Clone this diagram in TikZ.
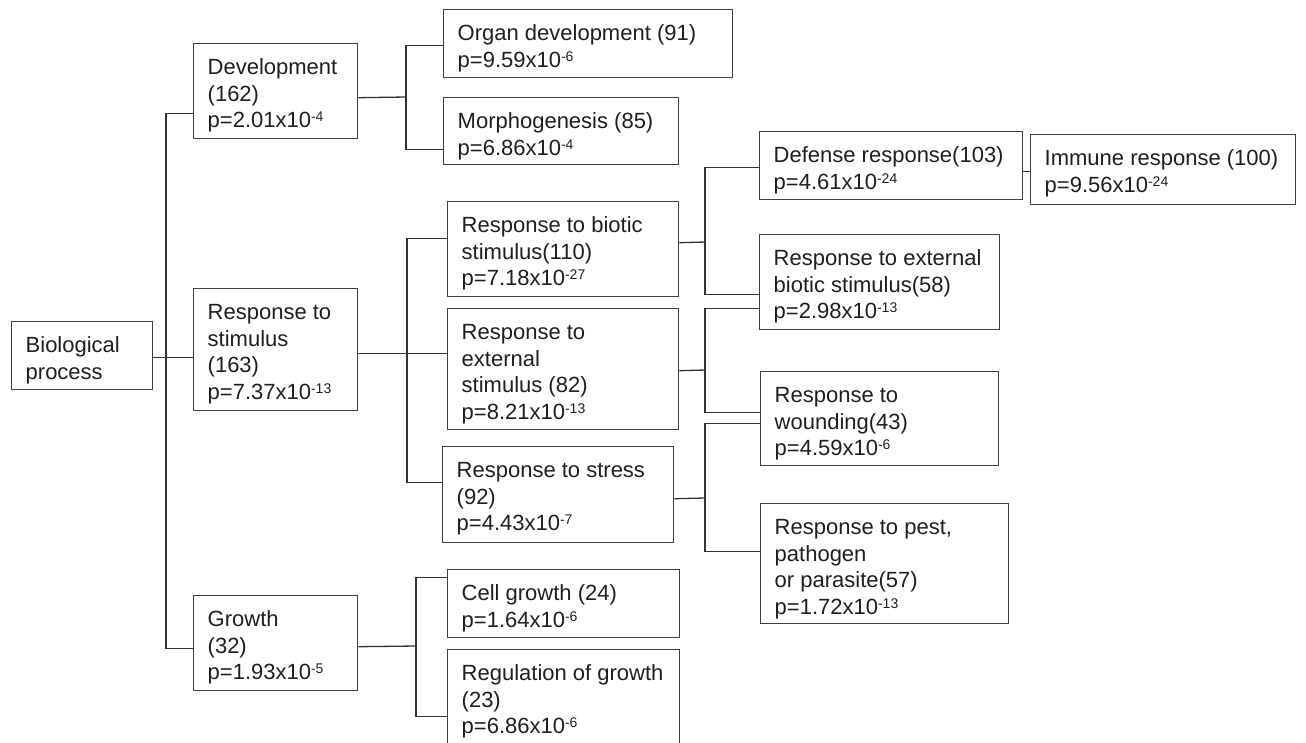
\documentclass[tikz,border=0pt]{standalone}
\usepackage{fontspec}
\setmainfont{Liberation Sans}
\newcommand{\sps}[1]{\raisebox{6pt}{\fontsize{14}{14}\selectfont #1}}
\newcommand{\bx}[3]{\parbox[c][#2pt][t]{#1pt}{\vspace*{12pt}\hspace*{14pt}\begin{tabular}{@{}l@{}}#3\end{tabular}}}
\tikzset{
  gobox/.style={draw=black!75, line width=1.4pt, anchor=north west, inner sep=0pt,
    font=\fontsize{22}{26.7}\selectfont, text=black!88},
  conn/.style={draw=black!80, line width=1.3pt}
}
\begin{document}
\begin{tikzpicture}[x=1pt,y=-1pt]
\clip (0,0) rectangle (1306,742);
% boxes
\node[gobox] (bio) at (11,321) {\bx{141}{68}{Biological\\process}};
\node[gobox] (dev) at (193,43) {\bx{164}{95}{Development\\(162)\\p=2.01x10\sps{-4}}};
\node[gobox] (organ) at (443,9) {\bx{289}{68}{Organ development (91)\\p=9.59x10\sps{-6}}};
\node[gobox] (morph) at (443,97) {\bx{235}{67}{Morphogenesis (85)\\p=6.86x10\sps{-4}}};
\node[gobox] (stim) at (193,288) {\bx{164}{122}{Response to\\stimulus\\(163)\\p=7.37x10\sps{-13}}};
\node[gobox] (biotic) at (447,201) {\bx{231}{95}{Response to biotic\\stimulus(110)\\p=7.18x10\sps{-27}}};
\node[gobox] (ext) at (447,308) {\bx{231}{121}{Response to\\external\\stimulus (82)\\p=8.21x10\sps{-13}}};
\node[gobox] (stress) at (442,446) {\bx{231}{96}{Response to stress\\(92)\\p=4.43x10\sps{-7}}};
\node[gobox] (def) at (759,131) {\bx{263}{68}{Defense response(103)\\p=4.61x10\sps{-24}}};
\node[gobox] (immune) at (1030,134) {\bx{265}{70}{Immune response (100)\\p=9.56x10\sps{-24}}};
\node[gobox] (extbio) at (759,234) {\bx{240}{95}{Response to external\\biotic stimulus(58)\\p=2.98x10\sps{-13}}};
\node[gobox] (wound) at (760,371) {\bx{238}{94}{Response to\\wounding(43)\\p=4.59x10\sps{-6}}};
\node[gobox] (pest) at (760,503) {\bx{248}{120}{Response to pest,\\pathogen\\or parasite(57)\\p=1.72x10\sps{-13}}};
\node[gobox] (growth) at (193,595) {\bx{164}{95}{Growth\\(32)\\p=1.93x10\sps{-5}}};
\node[gobox] (cell) at (447,569) {\bx{232}{68}{Cell growth (24)\\p=1.64x10\sps{-6}}};
\node[gobox] (reg) at (447,649) {\bx{232}{101}{Regulation of growth\\(23)\\p=6.86x10\sps{-6}}};
% bus points
\coordinate (t0) at (166,357);
\coordinate (t1) at (406,97);
\coordinate (t3) at (705,242);
\coordinate (t4) at (705,370);
\coordinate (t5) at (705,498);
\coordinate (t6) at (416,646);
\coordinate (t2) at (407,353);
% connectors
\draw[conn] ([yshift=-2pt]bio.east) -- ([yshift=-8pt]stim.west);
\draw[conn] ([yshift=-22.5pt]dev.west) -| (t0) |- ([yshift=-5.5pt]growth.west);
\draw[conn] ([yshift=-6.5pt]dev.east) -- (t1);
\draw[conn] ([yshift=-2pt]organ.west) -| (t1) |- ([yshift=-18.5pt]morph.west);
\draw[conn] ([yshift=-4pt]stim.east) -- ([yshift=15.5pt]ext.west);
\draw[conn] ([yshift=10.5pt]biotic.west) -| (t2) |- ([yshift=12pt]stress.west);
\draw[conn] ([yshift=6.5pt]biotic.east) -- (t3);
\draw[conn] ([yshift=-2pt]def.west) -| (t3) |- ([yshift=-12.5pt]extbio.west);
\draw[conn] ([yshift=-1.5pt]ext.east) -- (t4);
\draw[conn] ([yshift=-26.5pt]extbio.west) -| (t4) |- ([yshift=6pt]wound.west);
\draw[conn] ([yshift=-4pt]stress.east) -- (t5);
\draw[conn] ([yshift=-5pt]wound.west) -| (t5) |- ([yshift=12pt]pest.west);
\draw[conn] ([yshift=-6pt]def.east) -- ([yshift=-2pt]immune.west);
\draw[conn] ([yshift=-3.5pt]growth.east) -- (t6);
\draw[conn] ([yshift=26pt]cell.west) -| (t6) |- ([yshift=-16.5pt]reg.west);
\end{tikzpicture}
\end{document}
